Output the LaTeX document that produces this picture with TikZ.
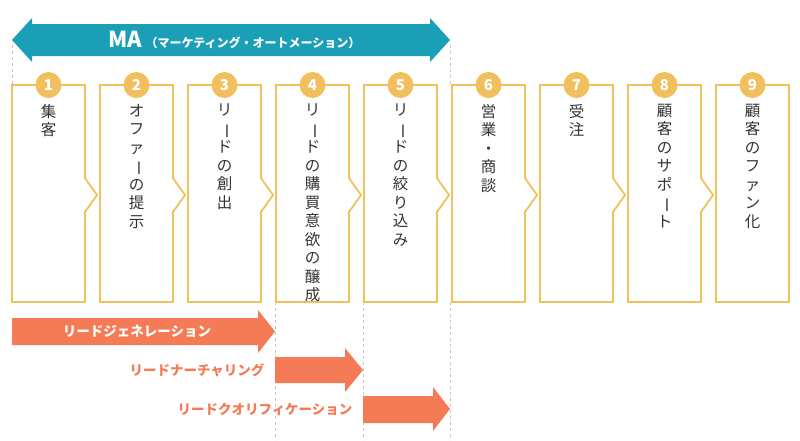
\documentclass[tikz,border=0pt]{standalone}
\usepackage{fontspec}
\setmainfont{Noto Sans CJK JP}
\usepackage{graphicx}
\usetikzlibrary{arrows.meta}
\definecolor{teal}{HTML}{1A9FB6}
\definecolor{gold}{HTML}{F2BF5E}
\definecolor{coral}{HTML}{F47B55}
\definecolor{dash}{HTML}{C8C8C8}
\newcommand{\lv}{\rotatebox[origin=c]{-90}{ー}}
\begin{document}
\begin{tikzpicture}[x=1pt,y=-1pt,
  box/.style={draw=gold,line width=1.8pt,line join=miter},
  num/.style={circle,fill=gold,minimum size=26pt,inner sep=0,text=white,font=\fontsize{15}{15}\bfseries\selectfont},
  vt/.style={anchor=north,align=center,inner sep=0,font=\fontsize{15.5}{18.5}\selectfont,text=black!80},
  dl/.style={draw=dash,dashed,line width=0.6pt},
  oa/.style={fill=coral},
  ol/.style={anchor=east,text=coral,font=\fontsize{13.5}{13.5}\bfseries\selectfont}]
\useasboundingbox (0,0) rectangle (800,440);
% dashed guides
\draw[dl] (12,45) -- (12,85);
\draw[dl] (450,45) -- (450,85);
\foreach \x in {275,363,450}{\draw[dl] (\x,302) -- (\x,440);}
% MA arrow
\fill[teal] (12,40) -- (32,18) -- (32,24) -- (430,24) -- (430,18) -- (450,40) -- (430,62) -- (430,56) -- (32,56) -- (32,62) -- cycle;
\node[text=white,anchor=west,inner sep=0] (ma) at (108,40) {\fontsize{22}{22}\bfseries\selectfont MA\,\fontsize{12}{12}\selectfont （マーケティング・オートメーション）};
% boxes
\foreach \i in {0,...,7}{
  \pgfmathsetmacro\x{12+88*\i}
  \draw[box] (\x,85) -- (\x+73,85) -- (\x+73,178) -- (\x+85,195) -- (\x+73,212) -- (\x+73,302) -- (\x,302) -- cycle;
}
\draw[box] (716,85) rectangle (789,302);
\foreach \i/\t in {1/集\\客,2/オ\\フ\\ァ\\\lv\\の\\提\\示,3/リ\\\lv\\ド\\の\\創\\出,4/リ\\\lv\\ド\\の\\購\\買\\意\\欲\\の\\醸\\成,5/リ\\\lv\\ド\\の\\絞\\り\\込\\み,6/営\\業\\・\\商\\談,7/受\\注,8/顧\\客\\の\\サ\\ポ\\\lv\\ト,9/顧\\客\\の\\フ\\ァ\\ン\\化}{
  \pgfmathsetmacro\cx{12+88*(\i-1)+36.5}
  \node[num] (n\i) at (\cx,85) {\i};
  \node[vt] (t\i) at (\cx,104) {\t};
}
% orange arrows
\fill[oa] (12,318) -- (258,318) -- (258,310) -- (275,331.5) -- (258,353) -- (258,345) -- (12,345) -- cycle;
\node[anchor=center,text=white,font=\fontsize{13.5}{13.5}\bfseries\selectfont] (lg) at (137,331.5) {リードジェネレーション};
\fill[oa] (275,357) -- (345,357) -- (345,348) -- (363,370) -- (345,392) -- (345,383) -- (275,383) -- cycle;
\node[ol] (ln) at (268,370) {リードナーチャリング};
\fill[oa] (363,396) -- (433,396) -- (433,387) -- (450,409) -- (433,431) -- (433,423) -- (363,423) -- cycle;
\node[ol] (lq) at (356,409) {リードクオリフィケーション};
\end{tikzpicture}
\end{document}
